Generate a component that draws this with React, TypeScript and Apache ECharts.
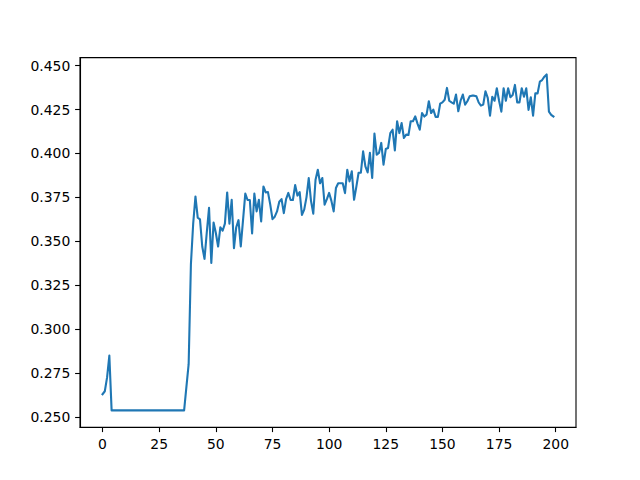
import React, { useEffect, useRef } from "react";
import * as echarts from "echarts";

const values: number[] = [
  0.2629, 0.2646, 0.2725, 0.2849, 0.2537, 0.2537, 0.2537, 0.2537, 0.2537, 0.2537,
  0.2537, 0.2537, 0.2537, 0.2537, 0.2537, 0.2537, 0.2537, 0.2537, 0.2537, 0.2537,
  0.2537, 0.2537, 0.2537, 0.2537, 0.2537, 0.2537, 0.2537, 0.2537, 0.2537, 0.2537,
  0.2537, 0.2537, 0.2537, 0.2537, 0.2537, 0.2537, 0.2537, 0.267, 0.280, 0.337,
  0.360, 0.3755, 0.3635, 0.3625, 0.347, 0.340, 0.355, 0.369, 0.3376, 0.3607,
  0.3547, 0.347, 0.358, 0.356, 0.360, 0.3778, 0.360, 0.3736, 0.3461, 0.358,
  0.362, 0.347, 0.362, 0.3771, 0.3735, 0.3735, 0.3545, 0.3771, 0.367, 0.3736,
  0.3613, 0.3812, 0.3778, 0.378, 0.371, 0.3626, 0.364, 0.367, 0.3725, 0.374,
  0.366, 0.374, 0.3775, 0.3735, 0.3735, 0.382, 0.376, 0.378, 0.365, 0.368,
  0.375, 0.386, 0.373, 0.3657, 0.385, 0.3907, 0.383, 0.386, 0.3708, 0.374,
  0.3775, 0.373, 0.367, 0.3803, 0.383, 0.383, 0.383, 0.3774, 0.3907, 0.3841,
  0.3898, 0.3736, 0.381, 0.389, 0.389, 0.4012, 0.3926, 0.3892, 0.4003, 0.386,
  0.4113, 0.3993, 0.4003, 0.406, 0.3936, 0.4025, 0.4031, 0.4116, 0.4135, 0.4017,
  0.4183, 0.4116, 0.4173, 0.4088, 0.4107, 0.4105, 0.4183, 0.4183, 0.4211, 0.417,
  0.4135, 0.423, 0.421, 0.4221, 0.4297, 0.423, 0.4249, 0.4208, 0.4208, 0.4283,
  0.4291, 0.4306, 0.4373, 0.430, 0.4291, 0.4283, 0.4335, 0.424, 0.430, 0.4335,
  0.4278, 0.4297, 0.4325, 0.4329, 0.4329, 0.4325, 0.429, 0.4272, 0.4278, 0.4354,
  0.4316, 0.4215, 0.4323, 0.430, 0.4371, 0.430, 0.4238, 0.4371, 0.430, 0.4371,
  0.432, 0.4333, 0.439, 0.4291, 0.4291, 0.4371, 0.4323, 0.4371, 0.4248, 0.432,
  0.4215, 0.4342, 0.4342, 0.4409, 0.4418, 0.4437, 0.445, 0.4238, 0.422, 0.421,
];

const xTicks: number[] = [0, 25, 50, 75, 100, 125, 150, 175, 200];
const yTicks: number[] = [0.25, 0.275, 0.3, 0.325, 0.35, 0.375, 0.4, 0.425, 0.45];

export default function App() {
  const ref = useRef<HTMLDivElement>(null);
  useEffect(() => {
    if (!ref.current) return;
    const chart = echarts.init(ref.current, null, { renderer: "svg" });
    const n = values.length;
    const xMin0 = 0;
    const xMax0 = n - 1;
    const xm = (xMax0 - xMin0) * 0.05;
    const yMin0 = Math.min(...values);
    const yMax0 = Math.max(...values);
    const ym = (yMax0 - yMin0) * 0.05;
    const font = "DejaVu Sans";
    const fs = 13.9;
    chart.setOption({
      animation: false,
      backgroundColor: "#ffffff",
      grid: {
        left: 80,
        right: 64,
        top: 57.6,
        bottom: 52.8,
        show: true,
        borderColor: "#000000",
        borderWidth: 1.1,
        backgroundColor: "transparent",
      },
      xAxis: {
        type: "value",
        min: xMin0 - xm,
        max: xMax0 + xm,
        axisLine: { show: true, onZero: false, lineStyle: { color: "#000", width: 1.1 } },
        axisTick: {
          show: true,
          inside: false,
          length: 4.9,
          lineStyle: { color: "#000", width: 1.1 },
          customValues: xTicks,
        },
        axisLabel: {
          color: "#000",
          fontFamily: font,
          fontSize: fs,
          margin: 9.7,
          customValues: xTicks,
          formatter: (v: number) => String(Math.round(v)),
        },
        splitLine: { show: false },
      },
      yAxis: {
        type: "value",
        min: yMin0 - ym,
        max: yMax0 + ym,
        axisLine: { show: true, onZero: false, lineStyle: { color: "#000", width: 1.1 } },
        axisTick: {
          show: true,
          inside: false,
          length: 4.9,
          lineStyle: { color: "#000", width: 1.1 },
          customValues: yTicks,
        },
        axisLabel: {
          color: "#000",
          fontFamily: font,
          fontSize: fs,
          margin: 9.7,
          customValues: yTicks,
          formatter: (v: number) => v.toFixed(3),
        },
        splitLine: { show: false },
      },
      series: [
        {
          type: "line",
          data: values.map((v, i) => [i, v]),
          showSymbol: false,
          symbol: "none",
          lineStyle: { color: "#1f77b4", width: 2.1, cap: "square", join: "round" },
          clip: true,
        },
      ],
    });
    return () => chart.dispose();
  }, []);
  return (
    <div
      ref={ref}
      style={{ position: "fixed", left: 0, top: 0, width: 640, height: 480, background: "#fff" }}
    />
  );
}
